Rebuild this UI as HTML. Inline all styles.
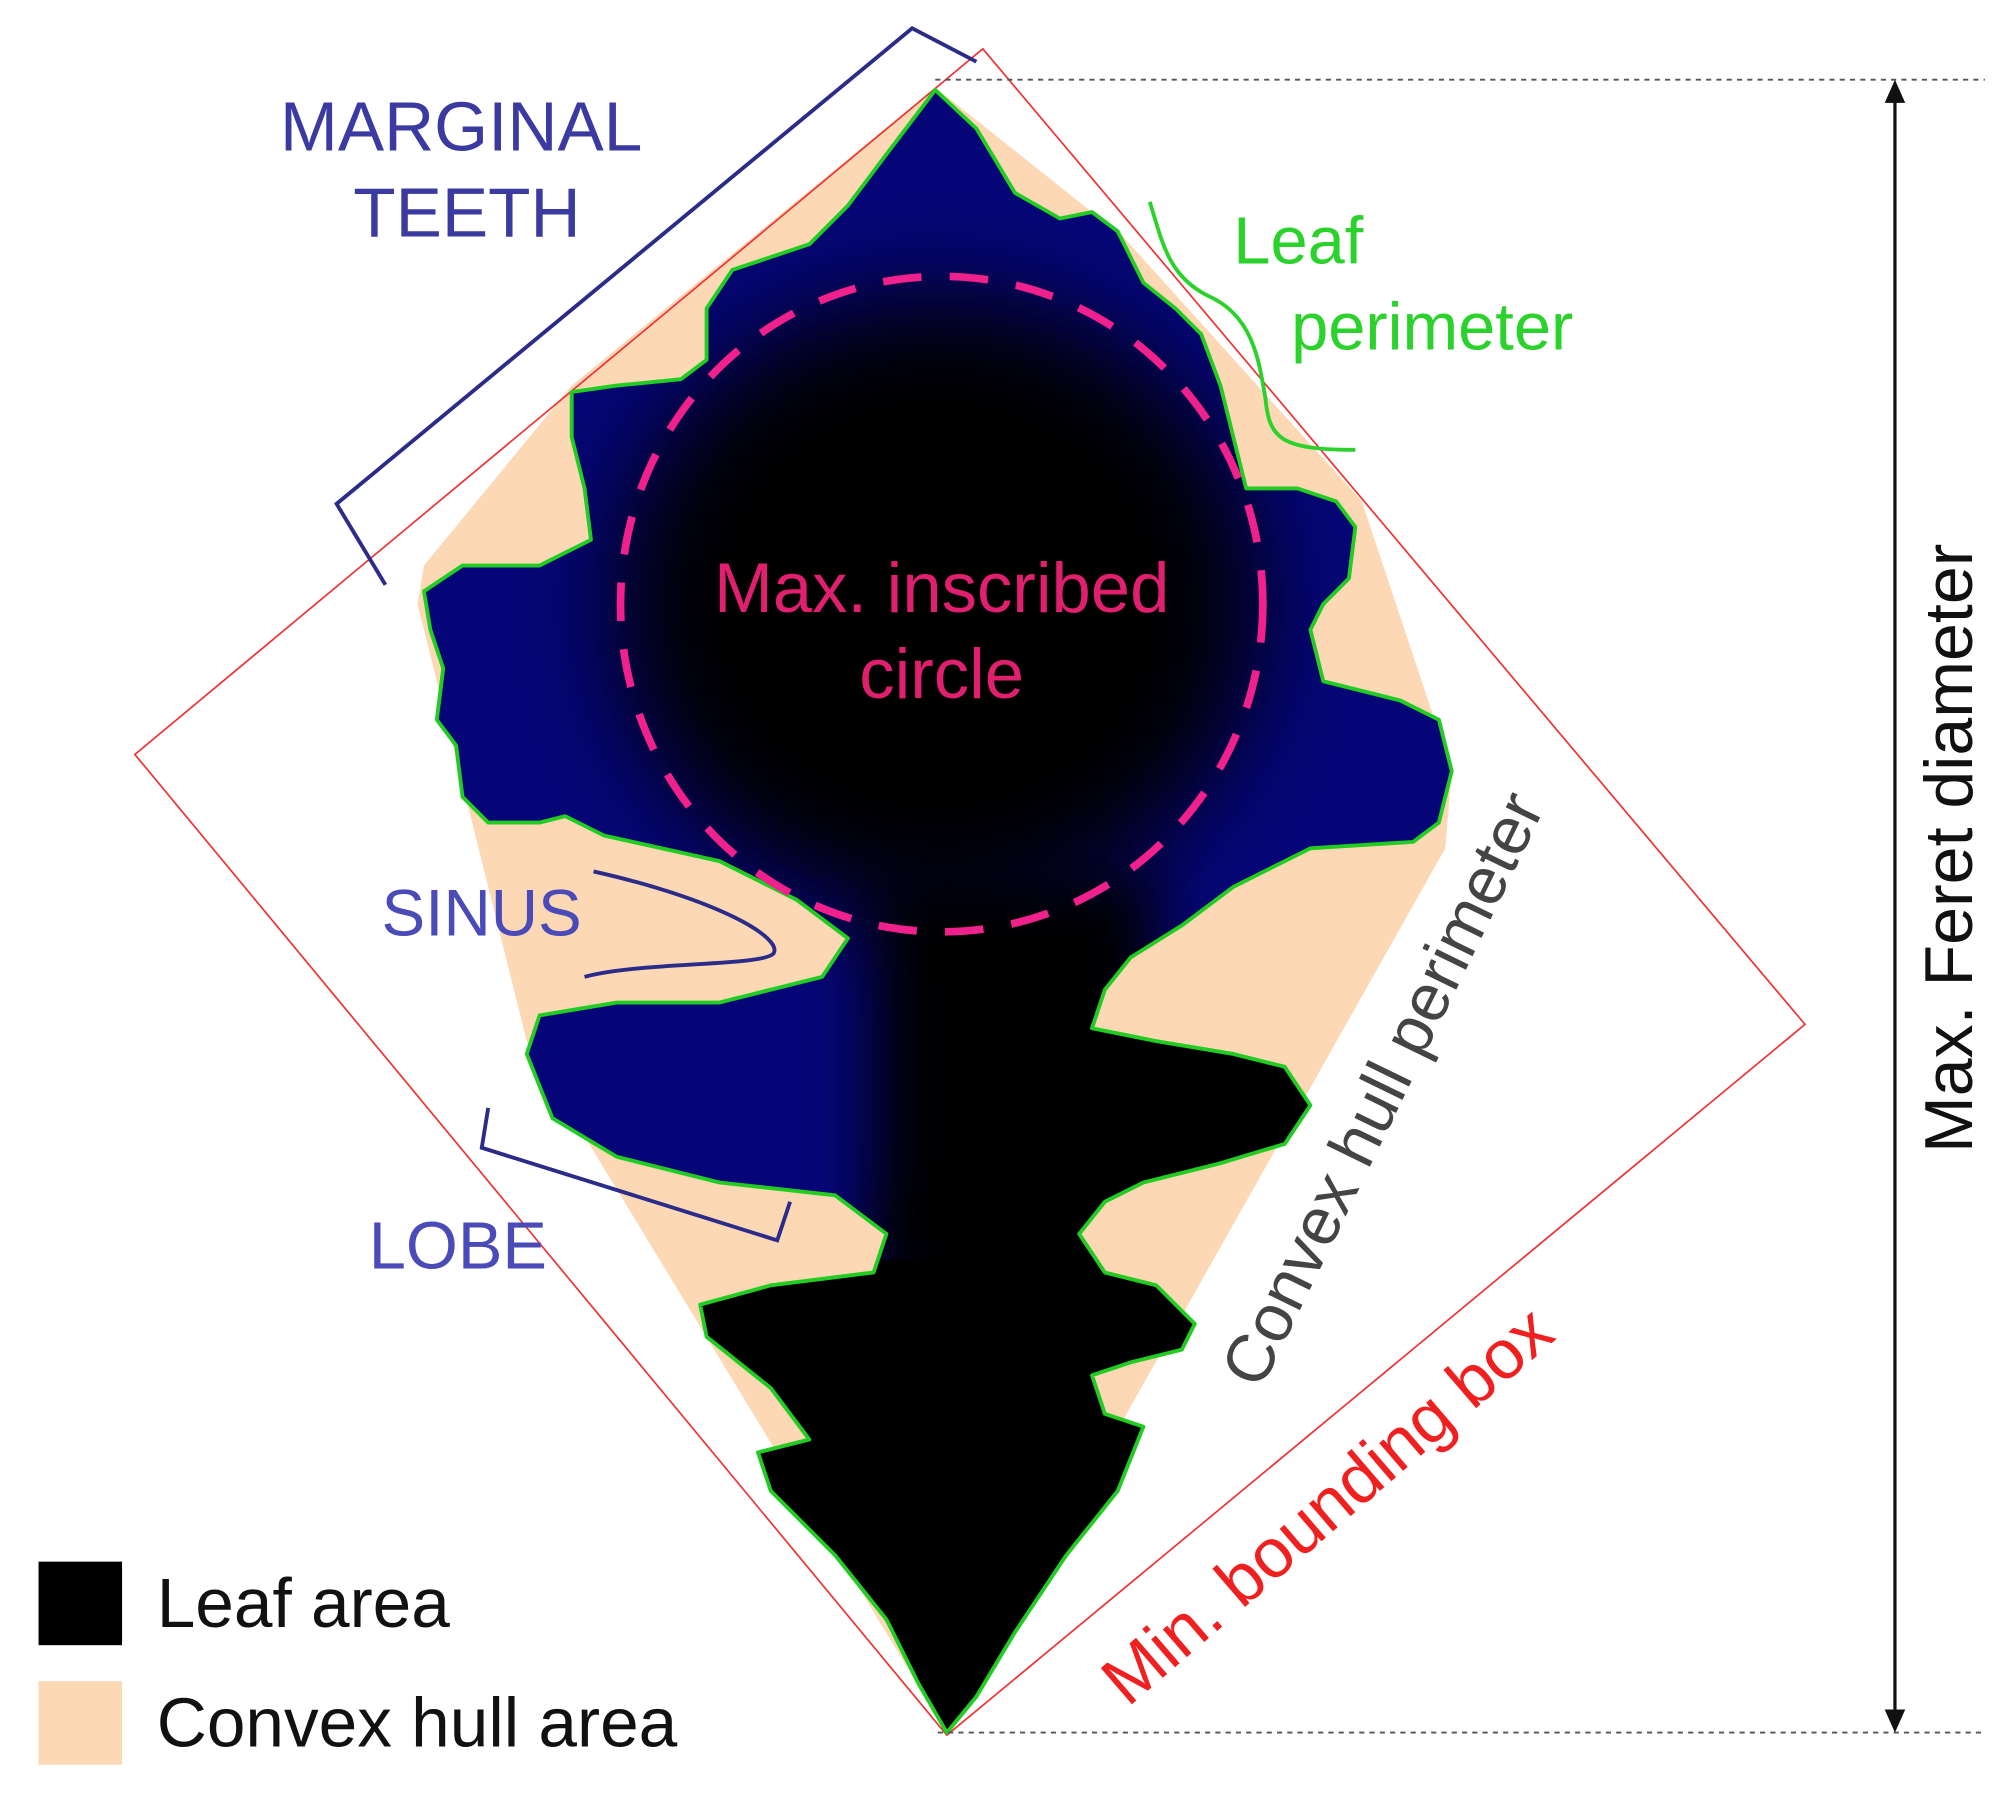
<!DOCTYPE html>
<html><head><meta charset="utf-8"><style>
html,body{margin:0;padding:0;background:#fff;}
svg{display:block;}
text{font-family:"Liberation Sans",sans-serif;}
</style></head><body>
<svg width="2008" height="1793" viewBox="0 0 1563 1395" preserveAspectRatio="none" xmlns="http://www.w3.org/2000/svg">
<defs>
<clipPath id="leafclip"><path id="lp" d="M728,70 L760,100 790,150 825,170 850,165 870,180 890,220 915,240 935,260 950,300 960,340 970,380 1010,380 1040,390 1055,410 1050,450 1030,470 1020,490 1030,530 1090,545 1120,560 1130,600 1120,640 1100,655 1020,660 960,690 920,720 880,745 860,770 850,800 900,810 960,820 1000,830 1020,860 1000,890 950,905 890,920 860,935 840,960 860,990 900,1000 930,1030 920,1050 880,1060 850,1070 860,1100 890,1110 870,1160 830,1210 790,1270 760,1320 737,1348 715,1310 690,1260 650,1210 600,1160 590,1130 630,1120 600,1080 550,1040 545,1015 600,1000 680,990 690,960 650,930 560,920 480,900 430,870 410,820 420,790 480,780 560,780 640,760 660,730 620,700 560,670 470,650 440,635 420,640 380,640 360,620 355,580 340,560 345,520 335,490 330,460 360,440 420,440 460,420 455,380 445,340 445,305 480,300 530,295 550,280 550,240 570,210 600,200 630,190 660,160 690,120 Z"/></clipPath>
<filter id="bl" x="-50%" y="-50%" width="200%" height="200%"><feGaussianBlur stdDeviation="40"/></filter>
<filter id="bl2" x="-50%" y="-50%" width="200%" height="200%"><feGaussianBlur stdDeviation="25"/></filter>
</defs>
<polygon points="728,68 875,185 1060,390 1130,600 1125,660 737,1348 410,810 325,470 330,440 445,300" fill="#fcd8b4"/>
<polygon points="765,38 1405,797 737,1350 105,587" fill="none" stroke="#f03030" stroke-width="1.3"/>
<g clip-path="url(#leafclip)">
<rect x="300" y="50" width="900" height="1320" fill="#050578"/>
<ellipse cx="730" cy="470" rx="250" ry="240" fill="#000" filter="url(#bl)"/>
<rect x="680" y="680" width="220" height="320" fill="#000" filter="url(#bl2)"/>
<rect x="820" y="820" width="260" height="140" fill="#000" filter="url(#bl2)"/>
<rect x="860" y="790" width="200" height="160" fill="#000"/>
<rect x="500" y="980" width="600" height="400" fill="#000"/>
<rect x="700" y="930" width="200" height="100" fill="#000" filter="url(#bl2)"/>
</g>
<use href="#lp" fill="none" stroke="#22cc22" stroke-width="3" stroke-linejoin="round"/>
<ellipse cx="733" cy="470" rx="250" ry="255" fill="none" stroke="#f0208c" stroke-width="6" stroke-dasharray="30 22"/>
<text x="733" y="476" font-size="55" fill="#e0206e" text-anchor="middle">Max. inscribed</text>
<text x="733" y="543" font-size="55" fill="#e0206e" text-anchor="middle">circle</text>
<line x1="728" y1="62" x2="1545" y2="62" stroke="#555" stroke-width="1.5" stroke-dasharray="4 4"/>
<line x1="730" y1="1348" x2="1545" y2="1348" stroke="#555" stroke-width="1.5" stroke-dasharray="4 4"/>
<line x1="1475" y1="75" x2="1475" y2="1335" stroke="#111" stroke-width="2.5"/>
<polygon points="1475,62 1467,80 1483,80" fill="#111"/>
<polygon points="1475,1348 1467,1330 1483,1330" fill="#111"/>
<text transform="translate(1535,660) rotate(-90)" font-size="53" fill="#111" text-anchor="middle">Max. Feret diameter</text>
<polyline points="300,455 262,392 710,22 760,48" fill="none" stroke="#2b2b8a" stroke-width="3"/>
<text x="218" y="117" font-size="54" fill="#3a3aa0">MARGINAL</text>
<text x="275" y="184" font-size="54" fill="#3a3aa0">TEETH</text>
<path d="M895,157 C905,190 910,215 940,230 C975,245 980,280 985,310 C988,340 995,350 1055,350" fill="none" stroke="#2bd22b" stroke-width="3"/>
<text x="960" y="205" font-size="52" fill="#2bd22b">Leaf</text>
<text x="1005" y="272" font-size="52" fill="#2bd22b">perimeter</text>
<text x="297" y="728" font-size="51" fill="#4a4ab8">SINUS</text>
<path d="M462,678 C560,700 610,730 602,742 C592,752 500,748 455,760" fill="none" stroke="#2b2b8a" stroke-width="3"/>
<polyline points="380,862 375,893 605,965 615,935" fill="none" stroke="#2b2b8a" stroke-width="3"/>
<text x="287" y="987" font-size="52" fill="#4a4ab8">LOBE</text>
<text transform="translate(1092,855) rotate(-64)" font-size="52" fill="#444" text-anchor="middle">Convex hull perimeter</text>
<text transform="translate(1045,1185) rotate(-40.7)" font-size="54" fill="#f02020" text-anchor="middle">Min. bounding box</text>
<rect x="30" y="1215" width="65" height="65" fill="#000"/>
<text x="122" y="1266" font-size="54" fill="#111">Leaf area</text>
<rect x="30" y="1308" width="65" height="65" fill="#fcd8b4"/>
<text x="122" y="1359" font-size="54" fill="#111">Convex hull area</text>
</svg>
</body></html>
